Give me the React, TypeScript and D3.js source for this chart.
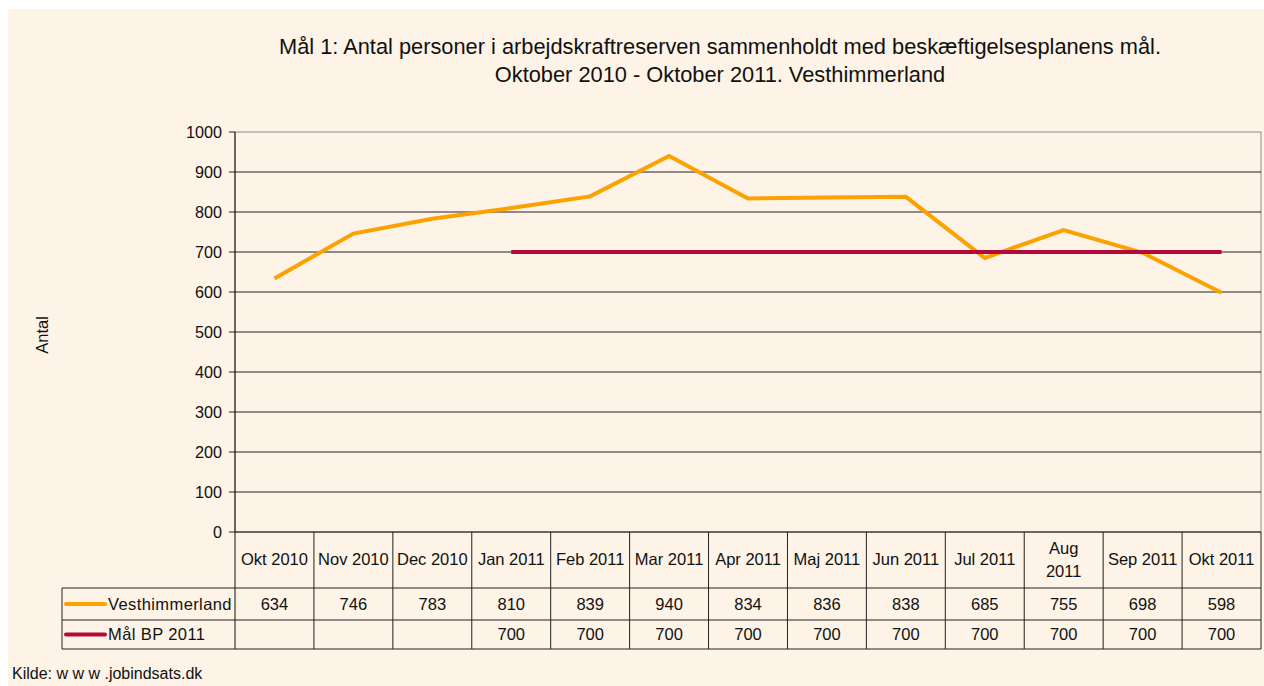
import React from "react";
import * as d3 from "d3";

const categories = [
  ["Okt 2010"], ["Nov 2010"], ["Dec 2010"], ["Jan 2011"], ["Feb 2011"], ["Mar 2011"],
  ["Apr 2011"], ["Maj 2011"], ["Jun 2011"], ["Jul 2011"], ["Aug", "2011"], ["Sep 2011"], ["Okt 2011"],
];
const vesthimmerland = [634, 746, 783, 810, 839, 940, 834, 836, 838, 685, 755, 698, 598];
const maalBP = [null, null, null, 700, 700, 700, 700, 700, 700, 700, 700, 700, 700];
const yTicks = [0, 100, 200, 300, 400, 500, 600, 700, 800, 900, 1000];
const titleLines = [
  "Mål 1: Antal personer i arbejdskraftreserven sammenholdt med beskæftigelsesplanens mål.",
  "Oktober 2010 - Oktober 2011. Vesthimmerland",
];
const seriesNames = ["Vesthimmerland", "Mål BP 2011"];

const W = 1256, H = 677;
const OX = 8, OY = 9;
const L = 235 - OX, R = 1261 - OX, T = 132 - OY, B = 532 - OY;
const ROW1 = 588 - OY, ROW2 = 620 - OY, ROW3 = 649 - OY;
const LEG = 62 - OX;
const ORANGE = "#FBA200";
const RED = "#B5093B";
const BG = "#FDF3E6";
const FONT = "Liberation Sans, Arial, sans-serif";

export default function App() {
  const x = d3.scaleBand<number>().domain(d3.range(categories.length)).range([L, R]);
  const y = d3.scaleLinear().domain([0, 1000]).range([B, T]);
  const cx = (i: number) => (x(i) as number) + x.bandwidth() / 2;
  const line = d3.line<number | null>()
    .defined((d) => d !== null)
    .x((_, i) => cx(i))
    .y((d) => y(d as number));
  const series = [vesthimmerland, maalBP];
  const colors = [ORANGE, RED];

  return (
    <svg width={W} height={H} style={{ position: "absolute", left: OX, top: OY, display: "block" }} fontFamily={FONT}>
      <rect x={0} y={0} width={W} height={H} fill={BG} />
      {titleLines.map((t, i) => (
        <text key={i} x={720 - OX} y={54 - OY + i * 28} textAnchor="middle" fontSize={21.8} fill="#111">{t}</text>
      ))}
      <rect x={L} y={T} width={R - L} height={B - T} fill="none" stroke="#8a8a8a" strokeWidth={1} />
      {yTicks.map((t) => (
        <g key={t}>
          {t > 0 && t < 1000 && <line x1={L} x2={R} y1={y(t)} y2={y(t)} stroke="#222" strokeWidth={1} />}
          <line x1={L - 6} x2={L} y1={y(t)} y2={y(t)} stroke="#222" />
          <text x={L - 13} y={y(t) + 5.5} textAnchor="end" fontSize={16.2} fill="#111">{t}</text>
        </g>
      ))}
      <line x1={L} x2={L} y1={T} y2={ROW3} stroke="#111" />
      <line x1={L} x2={R} y1={B} y2={B} stroke="#111" />
      <text transform={`translate(${48 - OX},${335 - OY}) rotate(-90)`} textAnchor="middle" fontSize={16.5} fill="#111">Antal</text>
      {series.map((s, i) => (
        <path key={i} d={line(s) || ""} fill="none" stroke={colors[i]} strokeWidth={4} strokeLinejoin="miter" />
      ))}
      <g stroke="#222" strokeWidth={1}>
        <line x1={LEG} x2={R} y1={ROW1} y2={ROW1} />
        <line x1={LEG} x2={R} y1={ROW2} y2={ROW2} />
        <line x1={LEG} x2={R} y1={ROW3} y2={ROW3} />
        <line x1={LEG} x2={LEG} y1={ROW1} y2={ROW3} />
        {categories.map((_, i) => (
          <line key={i} x1={(x(i) as number) + x.bandwidth()} x2={(x(i) as number) + x.bandwidth()} y1={B} y2={ROW3} />
        ))}
      </g>
      {categories.map((c, i) => (
        <text key={i} x={cx(i)} textAnchor="middle" fontSize={16.5} fill="#111">
          {c.length === 1 ? (
            <tspan x={cx(i)} y={(B + ROW1) / 2 + 5}>{c[0]}</tspan>
          ) : (
            c.map((s, j) => <tspan key={j} x={cx(i)} y={(B + ROW1) / 2 - 6 + j * 23}>{s}</tspan>)
          )}
        </text>
      ))}
      {series.map((s, r) => {
        const yTop = r === 0 ? ROW1 : ROW2;
        const yBot = r === 0 ? ROW2 : ROW3;
        const ym = (yTop + yBot) / 2;
        return (
          <g key={r}>
            <line x1={66 - OX} x2={105 - OX} y1={ym} y2={ym} stroke={colors[r]} strokeWidth={4} strokeLinecap="round" />
            <text x={108 - OX} y={ym + 5.5} fontSize={16.5} fill="#111" letterSpacing={0.4}>{seriesNames[r]}</text>
            {s.map((v, i) => v !== null && (
              <text key={i} x={cx(i)} y={ym + 5.5} textAnchor="middle" fontSize={16.5} fill="#111">{v}</text>
            ))}
          </g>
        );
      })}
      <text x={12 - OX} y={679 - OY} fontSize={16} fill="#111">Kilde: w w w .jobindsats.dk</text>
    </svg>
  );
}
